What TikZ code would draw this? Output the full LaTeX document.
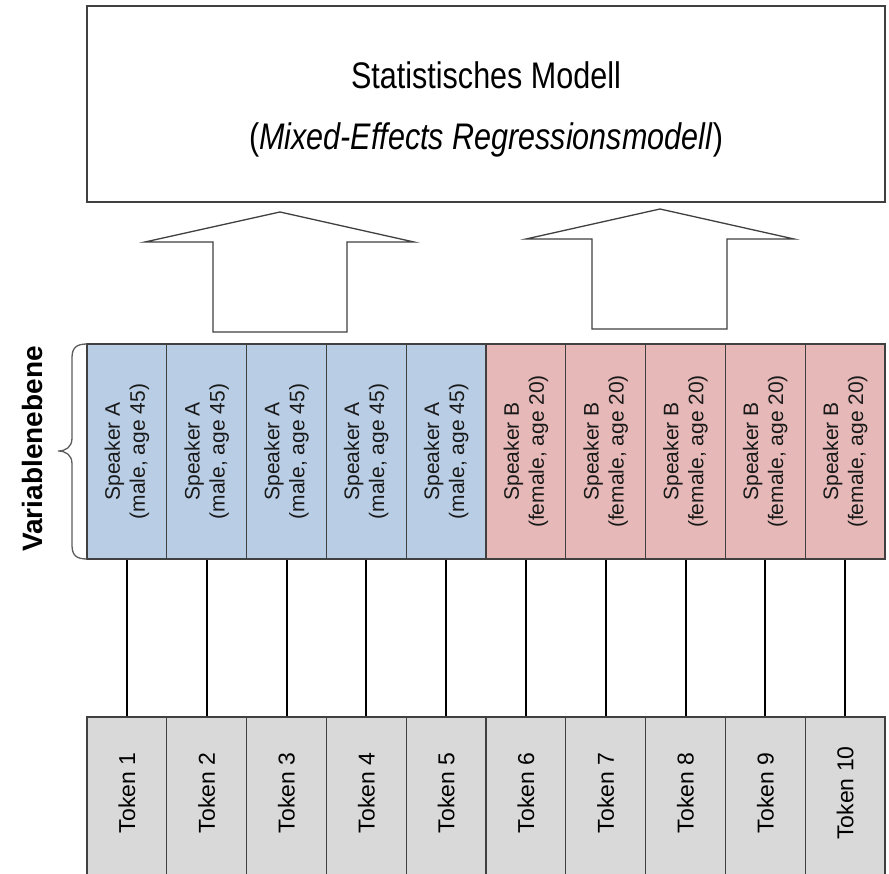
\documentclass[tikz,border=0pt]{standalone}
\usepackage{fontspec}
\setmainfont{Liberation Sans}
\usepackage{graphicx}
\definecolor{cellblue}{HTML}{B9CDE5}
\definecolor{cellpink}{HTML}{E6B9B8}
\definecolor{tokgray}{HTML}{D9D9D9}
\definecolor{edge}{HTML}{404040}
\begin{document}
\begin{tikzpicture}[x=1pt,y=-1pt,
  cellbox/.style={draw=edge, line width=1.3pt, minimum width=79.8pt, minimum height=215pt, inner sep=0pt},
  tokbox/.style={draw=edge, line width=1.3pt, fill=tokgray, minimum width=79.8pt, minimum height=200pt, inner sep=0pt},
  celltext/.style={rotate=90, align=center, inner sep=0pt, font=\fontsize{21}{25}\selectfont, text=black!90},
  toktext/.style={rotate=90, inner sep=0pt, font=\fontsize{23}{27}\selectfont},
  blockarrow/.style={draw=edge, line width=1.3pt, fill=white, line join=miter},
  link/.style={draw=black, line width=2pt}]
\clip (0,0) rectangle (889,874);
\fill[white] (0,0) rectangle (889,874);
% model box
\node[draw=edge, line width=1.8pt, minimum width=798pt, minimum height=196pt, inner sep=0pt] (model) at (486,104) {};
\node[anchor=base, inner sep=0pt] (t1) at (486,89) {\fontsize{37}{44}\selectfont\scalebox{0.825}[1]{Statistisches Modell}};
\node[anchor=base, inner sep=0pt] (t2) at (486,150) {\fontsize{37}{44}\selectfont\scalebox{0.825}[1]{(\textit{Mixed-Effects Regressionsmodell})}};
% block arrows
\draw[blockarrow] (213,332) -- (213,242) -- (145,242) -- (280,212) -- (414,242) -- (347,242) -- (347,332) -- cycle;
\draw[blockarrow] (592,329) -- (592,239) -- (526,239) -- (660,209) -- (794,239) -- (727,239) -- (727,329) -- cycle;
% speaker cells
\foreach \i in {1,...,5} {
  \node[cellbox, fill=cellblue] (s\i) at ({87+79.8*(\i-0.5)},451.5) {};
  \node[celltext] (sl\i) at (s\i) {Speaker A\\(male, age 45)};
}
\foreach \i in {6,...,10} {
  \node[cellbox, fill=cellpink] (s\i) at ({87+79.8*(\i-0.5)},451.5) {};
  \node[celltext] (sl\i) at (s\i) {Speaker B\\(female, age 20)};
}
% tokens
\foreach \i in {1,...,10} {
  \node[tokbox] (k\i) at ({87+79.8*(\i-0.5)},817) {};
  \node[toktext] (kl\i) at ({87+79.8*(\i-0.5)},793) {Token \i};
  \draw[link] (s\i.south) -- (k\i.north);
}
% brace
\draw[draw=edge!85, line width=1.3pt] (87,344) .. controls (76,344) and (72,348) .. (72,358) -- (72,438) .. controls (72,447) and (66,451) .. (58,451) .. controls (66,451) and (72,455) .. (72,464) -- (72,545) .. controls (72,555) and (76,559) .. (87,559);
\node[rotate=90, inner sep=0pt, font=\bfseries\fontsize{28}{32}\selectfont] (var) at (32,449) {Variablenebene};
\end{tikzpicture}
\end{document}
